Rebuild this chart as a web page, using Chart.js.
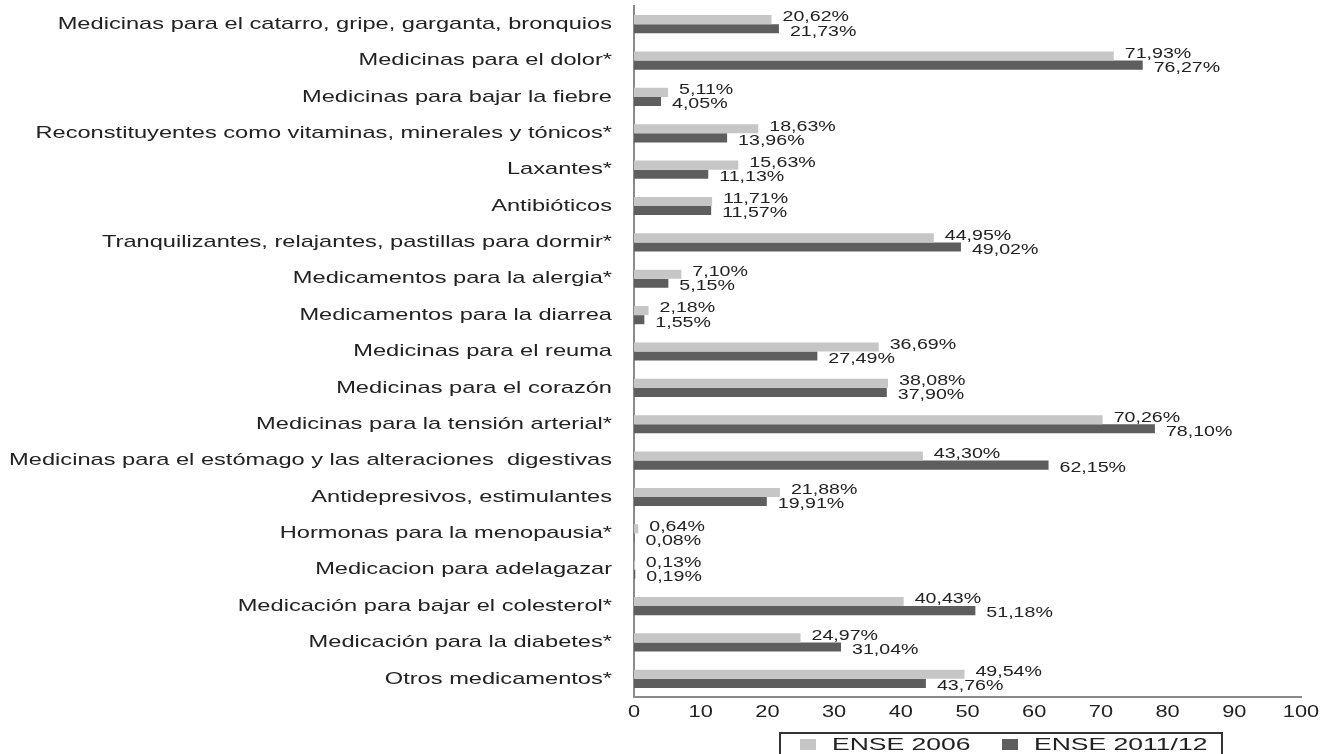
<!DOCTYPE html>
<html>
<head>
<meta charset="utf-8">
<script src="https://cdn.jsdelivr.net/npm/chart.js@4"></script>
<style>
  html, body { margin: 0; padding: 0; background: #fff; }
  #wrap { width: 1322px; height: 754px; }
</style>
</head>
<body>
<div id="wrap"><canvas id="myChart" width="1322" height="754"></canvas></div>
<script>
// Data
const categories = [
  'Medicinas para el catarro, gripe, garganta, bronquios',
  'Medicinas para el dolor*',
  'Medicinas para bajar la fiebre',
  'Reconstituyentes como vitaminas, minerales y tónicos*',
  'Laxantes*',
  'Antibióticos',
  'Tranquilizantes, relajantes, pastillas para dormir*',
  'Medicamentos para la alergia*',
  'Medicamentos para la diarrea',
  'Medicinas para el reuma',
  'Medicinas para el corazón',
  'Medicinas para la tensión arterial*',
  'Medicinas para el estómago y las alteraciones  digestivas',
  'Antidepresivos, estimulantes',
  'Hormonas para la menopausia*',
  'Medicacion para adelagazar',
  'Medicación para bajar el colesterol*',
  'Medicación para la diabetes*',
  'Otros medicamentos*'
];
const ense2006 = [20.62, 71.93, 5.11, 18.63, 15.63, 11.71, 44.95, 7.10, 2.18, 36.69,
                  38.08, 70.26, 43.30, 21.88, 0.64, 0.13, 40.43, 24.97, 49.54];
const ense2011 = [21.73, 76.27, 4.05, 13.96, 11.13, 11.57, 49.02, 5.15, 1.55, 27.49,
                  37.90, 78.10, 62.15, 19.91, 0.08, 0.19, 51.18, 31.04, 43.76];
const seriesNames = ['ENSE 2006', 'ENSE 2011/12'];
const xTicks = [0, 10, 20, 30, 40, 50, 60, 70, 80, 90, 100];

const lightGray = '#c6c6c6';
const darkGray = '#5e5e5e';
const textColor = '#222';
const fontFamily = '"Liberation Sans", Arial, sans-serif';

// the source text is wide (horizontally stretched), so draw it scaled
function wideText(ctx, txt, x, y, size, sx, align) {
    ctx.save();
    ctx.font = size + 'px ' + fontFamily;
    ctx.textAlign = align;
    ctx.textBaseline = 'middle';
    ctx.translate(x, y);
    ctx.scale(sx, 1);
    ctx.fillText(txt, 0, 0);
    ctx.restore();
}

// category names and x tick labels, placed through the scales
const axisLabels = {
  id: 'axisLabels',
  afterDraw(chart) {
    const ctx = chart.ctx;
    const xs = chart.scales.x, ys = chart.scales.y;
    const area = chart.chartArea;
    ctx.save();
    ctx.fillStyle = textColor;
    chart.data.labels.forEach((lab, i) => {
        wideText(ctx, lab, area.left - 22, ys.getPixelForTick(i), 17, 1.39, 'right');
    });
    xTicks.forEach(v => {
        wideText(ctx, String(v), xs.getPixelForValue(v), area.bottom + 16, 16, 1.36, 'center');
    });
    ctx.restore();
  }
};

// percent labels at the end of each bar
const valueLabels = {
  id: 'valueLabels',
  afterDatasetsDraw(chart) {
    const ctx = chart.ctx;
    ctx.save();
    ctx.fillStyle = textColor;
    chart.data.datasets.forEach((ds, di) => {
      chart.getDatasetMeta(di).data.forEach((bar, i) => {
        let txt = ds.data[i].toFixed(2).replace('.', ',') + '%';
        wideText(ctx, txt, bar.x + 11, bar.y + (di === 0 ? -2 : 3), 14, 1.4, 'left');
      });
    });
    ctx.restore();
  }
};

// boxed legend under the axis
const boxLegend = {
  id: 'boxLegend',
  afterDraw(chart) {
    const ctx = chart.ctx;
    ctx.save();
    ctx.strokeStyle = '#333';
    ctx.lineWidth = 2;
    ctx.strokeRect(780, 733, 442, 30);
    const itemX = [800, 1002];
    chart.data.datasets.forEach((ds, di) => {
        ctx.fillStyle = ds.backgroundColor;
        ctx.fillRect(itemX[di], 739, 16, 11);
        ctx.fillStyle = textColor;
        wideText(ctx, ds.label, itemX[di] + 32, 745, 17, 1.56, 'left');
    });
    ctx.restore();
  }
};

var ctx = document.getElementById('myChart').getContext('2d');
var chart = new Chart(ctx, {
    type: 'bar',
    data: {
        labels: categories,
        datasets: [{
            label: seriesNames[0],
            backgroundColor: lightGray,
            data: ense2006,
            barPercentage: 1.0,
            categoryPercentage: 0.5
        }, {
            label: seriesNames[1],
            backgroundColor: darkGray,
            data: ense2011,
            barPercentage: 1.0,
            categoryPercentage: 0.5
        }]
    },
    options: {
        indexAxis: 'y',
        responsive: false,
        animation: false,
        layout: { padding: { top: 6, right: 21, left: 0, bottom: 0 } },
        plugins: {
            legend: { display: false },
            tooltip: { enabled: false }
        },
        scales: {
            x: {
                min: 0,
                max: 100,
                afterBuildTicks: (scale) => { scale.ticks = xTicks.map(v => ({ value: v })); },
                grid: { display: false },
                border: { display: true, color: '#8a8a8a', width: 2 },
                ticks: { display: false },
                afterFit: (scale) => { scale.height = 57; }
            },
            y: {
                grid: { display: false },
                border: { display: true, color: '#8a8a8a', width: 2 },
                ticks: { display: false },
                afterFit: (scale) => { scale.width = 634; }
            }
        }
    },
    plugins: [valueLabels, axisLabels, boxLegend]
});
</script>
</body>
</html>
